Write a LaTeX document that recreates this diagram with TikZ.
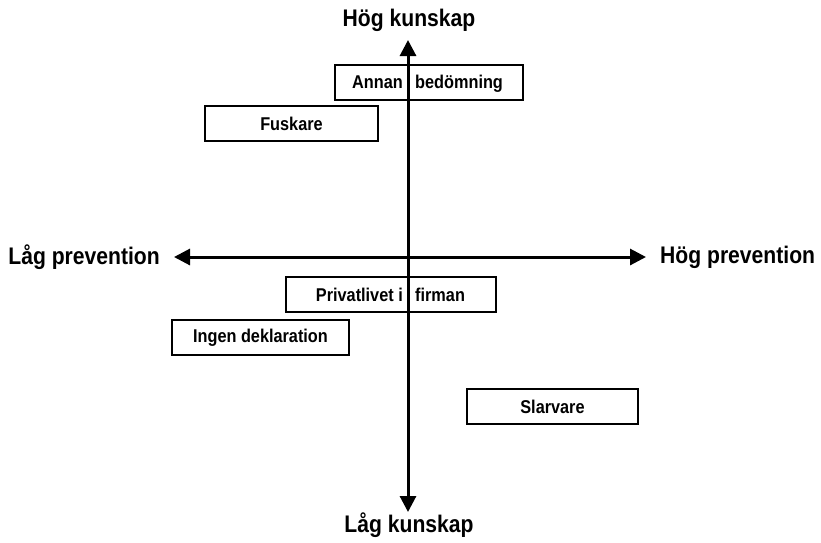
\documentclass[tikz,border=0pt]{standalone}
\usepackage{fontspec}
\setmainfont{Liberation Sans}[FakeStretch=0.88]
\usetikzlibrary{arrows.meta}
\begin{document}
\begin{tikzpicture}[x=1pt,y=-1pt,
  axis/.style={line width=3pt,{Triangle[length=16pt,width=16pt]}-{Triangle[length=16pt,width=16pt]}},
  box/.style={draw,line width=2pt,minimum height=35pt,inner sep=0pt,font=\fontsize{18.5}{22}\selectfont\bfseries},
  boxtext/.style={font=\fontsize{18.5}{22}\selectfont\bfseries,inner sep=0pt},
  axlabel/.style={font=\fontsize{24}{28}\selectfont\bfseries,inner sep=0pt}]
\useasboundingbox (0,0) rectangle (821,542);
\node[box,minimum width=188pt] (annan) at (429,82) {};
\node[box,minimum width=173pt] (fusk) at (291.5,123.5) {Fuskare};
\node[box,minimum width=210pt] (priv) at (391,294.5) {};
\node[box,minimum width=177pt] (ingen) at (260.5,337.5) {Ingen deklaration};
\node[box,minimum width=171pt] (slarv) at (552.5,406.5) {Slarvare};
\coordinate (top) at (408,40);
\coordinate (bot) at (408,512);
\coordinate (left) at (174,257);
\coordinate (right) at (646,257);
\draw[axis] (bot) -- (top);
\draw[axis] (left) -- (right);
\node[boxtext,anchor=base east] (annanA) at (403,88.5) {Annan};
\node[boxtext,anchor=base west] (annanB) at (415,88.5) {bedömning};
\node[boxtext,anchor=base east] (privA) at (403,301) {Privatlivet i};
\node[boxtext,anchor=base west] (privB) at (415,301) {firman};
\node[axlabel] (hk) at (409,20) {Hög kunskap};
\node[axlabel] (lk) at (409,525) {Låg kunskap};
\node[axlabel,anchor=east] (lp) at (160,257) {Låg prevention};
\node[axlabel,anchor=west] (hp) at (660,257) {Hög prevention};
\end{tikzpicture}
\end{document}
